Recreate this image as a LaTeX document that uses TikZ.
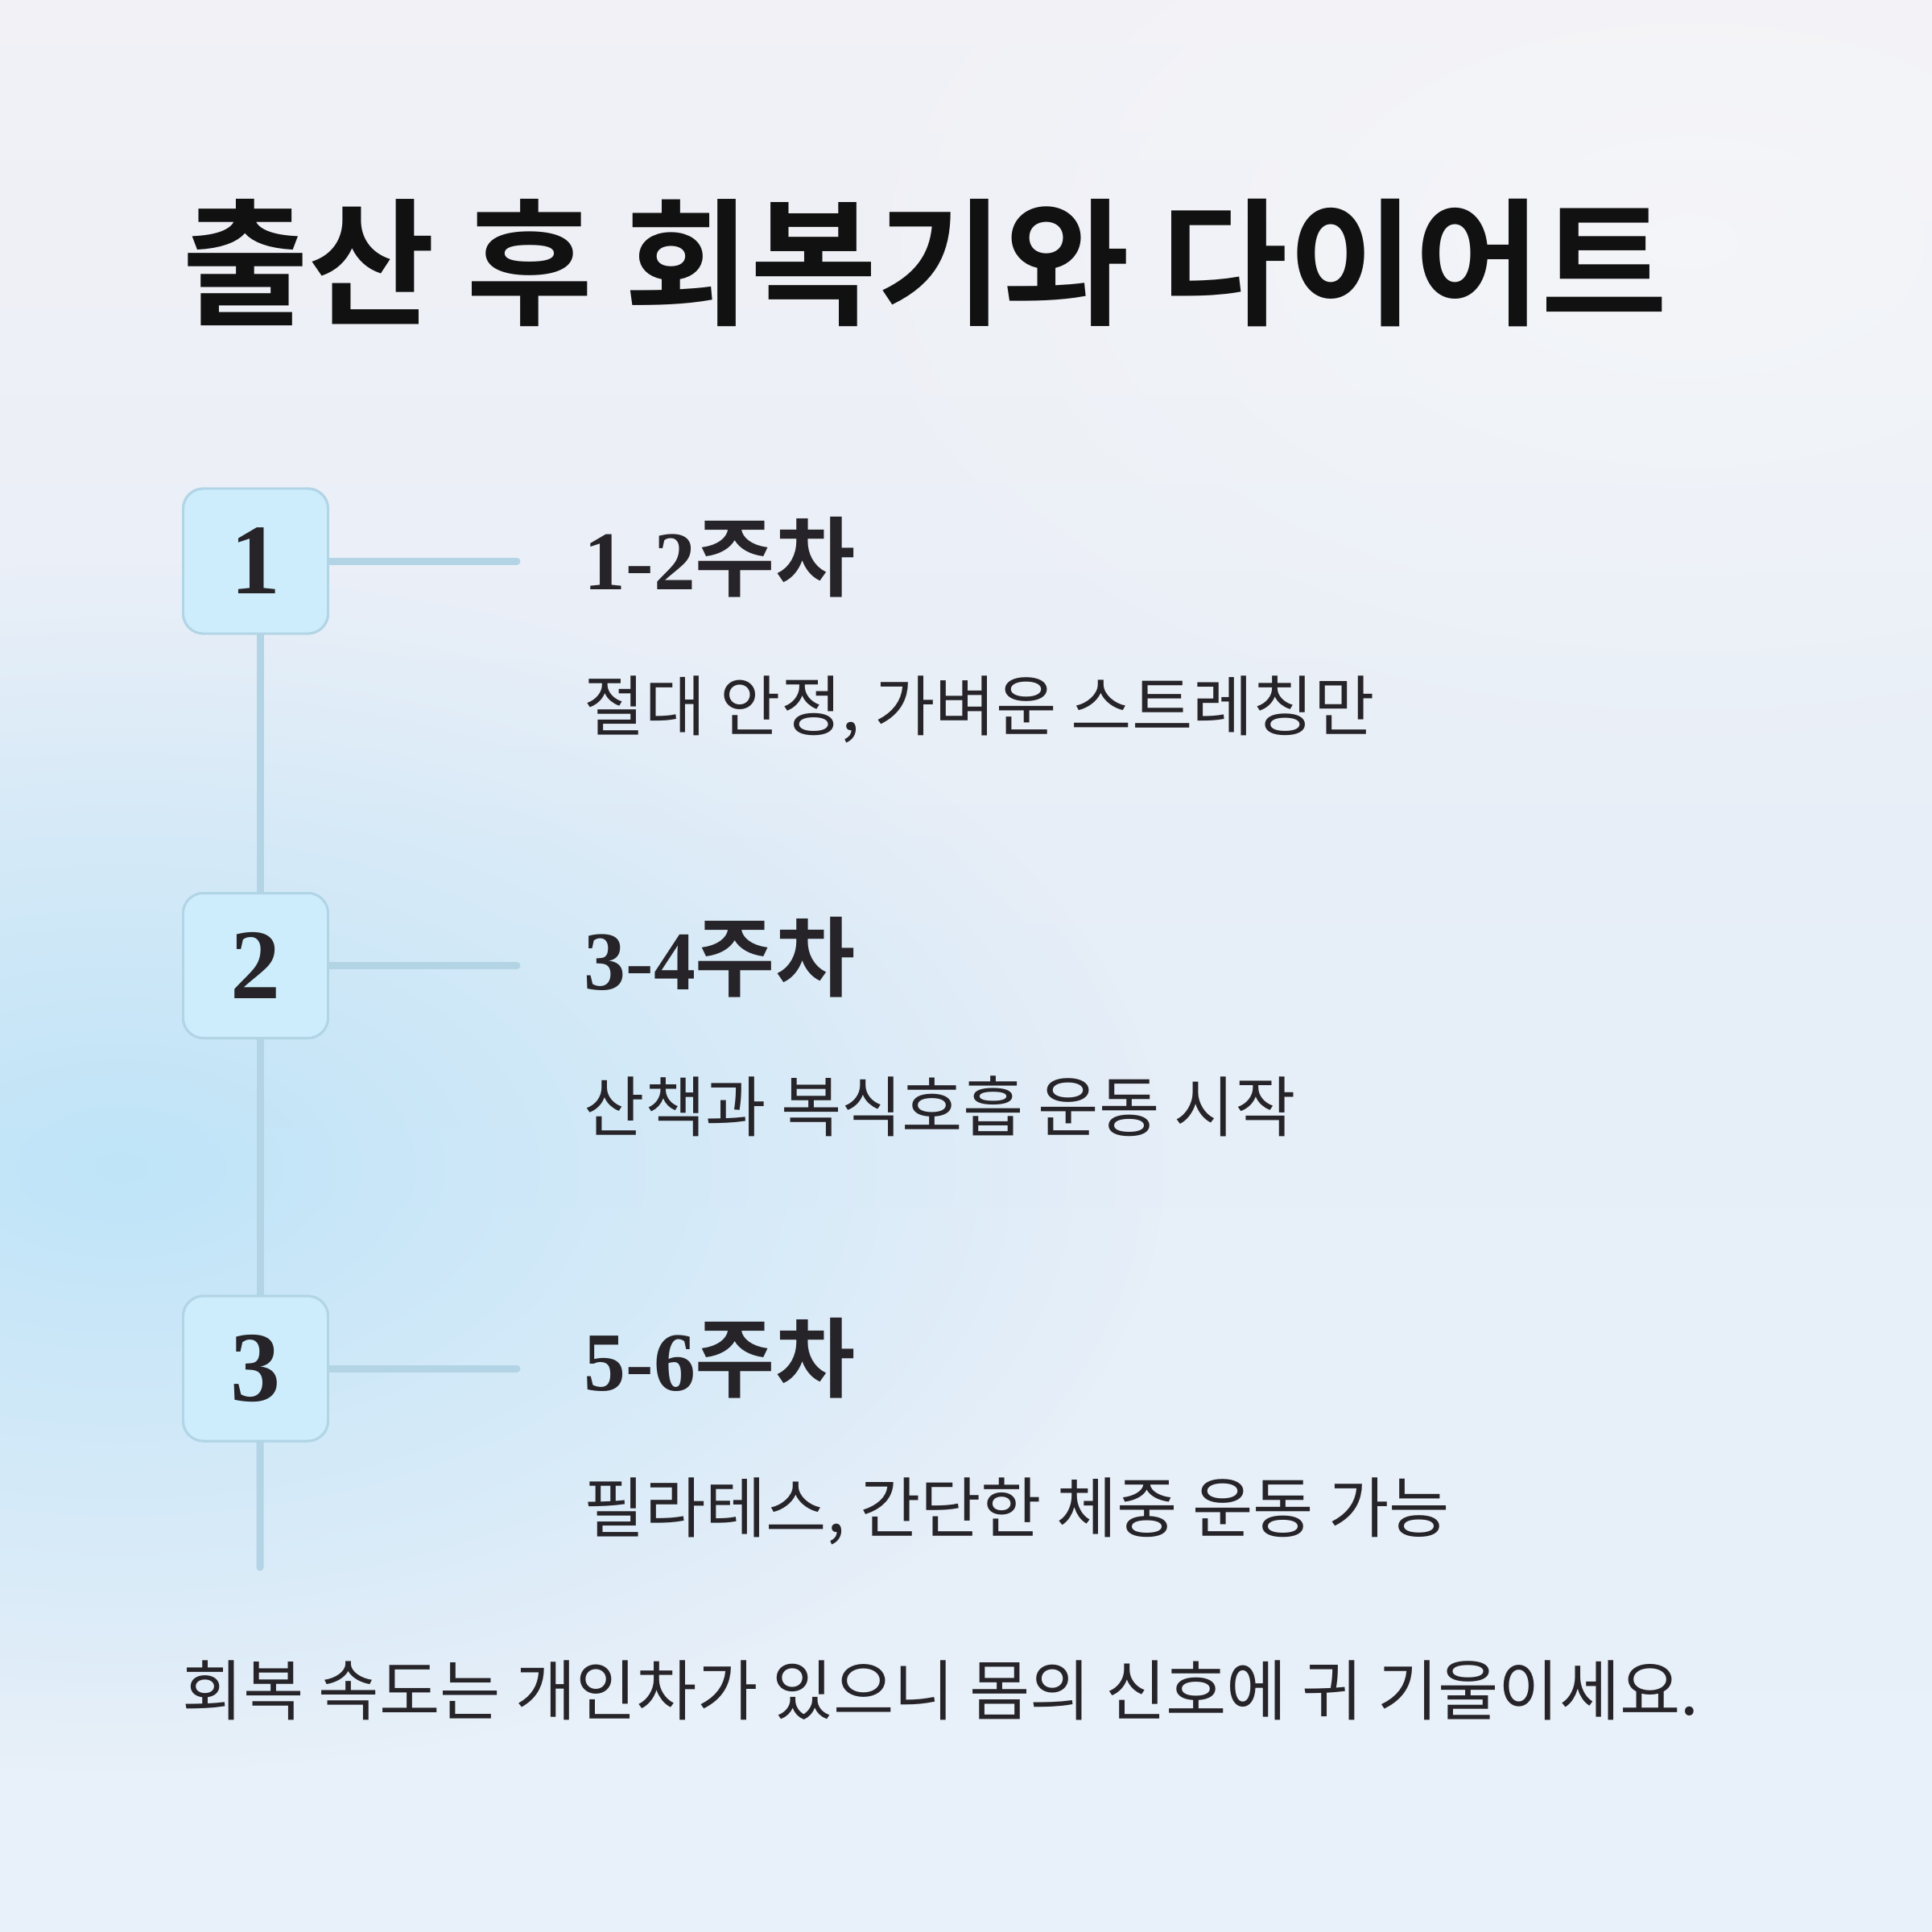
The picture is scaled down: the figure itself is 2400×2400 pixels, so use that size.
\documentclass[tikz,border=0pt]{standalone}
\usepackage{fontspec}
\usetikzlibrary{fadings}
\newfontfamily\krR{Noto Sans CJK KR}[RawFeature={+palt}]
\newfontfamily\krB{Noto Sans CJK KR Bold}[RawFeature={+palt}]
\newfontfamily\digB{Liberation Serif}[BoldFont={Liberation Serif Bold}]
\definecolor{bgtop}{HTML}{F1F1F6}
\definecolor{bgmid}{HTML}{E6EEF7}
\definecolor{bgbot}{HTML}{E8F0FA}
\definecolor{glow}{HTML}{BFE4F8}
\definecolor{boxfill}{HTML}{CDEDFD}
\definecolor{boxline}{HTML}{B2D5E5}
\definecolor{conn}{HTML}{B3D4E4}
\definecolor{txt}{HTML}{262428}
\definecolor{ttl}{HTML}{111111}
\tikzfading[name=softglow, inner color=transparent!0, outer color=transparent!100]
\tikzset{
  numbox/.style={draw=boxline, line width=0.85pt, fill=boxfill, rounded corners=2.5mm,
    minimum width=18mm, minimum height=18mm, inner sep=0pt, text=txt,
    font=\digB\bfseries\fontsize{35.3pt}{36pt}\selectfont},
  connline/.style={draw=conn, line width=2.56pt, line cap=round},
  heading/.style={anchor=base west, inner sep=0pt, text=txt},
  desc/.style={anchor=base west, inner sep=0pt, text=txt, font=\krR\fontsize{23.3pt}{24pt}\selectfont},
}
\newcommand{\hd}[2]{{\digB\bfseries\fontsize{29.5pt}{30pt}\selectfont #1}{\krB\fontsize{30.7pt}{31pt}\selectfont #2}}
\begin{document}
\begin{tikzpicture}[x=0.1mm,y=-0.1mm]
\useasboundingbox (0,0) rectangle (2400,2400);
% background
\shade[top color=bgtop, bottom color=bgbot, middle color=bgmid] (0,0) rectangle (2400,2400);
\fill[glow, path fading=softglow] (150,1450) ellipse (1300 and 750);
\fill[white, opacity=0.35, path fading=softglow] (2100,300) ellipse (1200 and 700);
% title
\node[anchor=base west, inner sep=0pt, text=ttl, font=\krB\fontsize{48.6pt}{50pt}\selectfont] (title) at (226,390) {출산 후 회복기와 다이어트};
% boxes
\node[numbox] (n1) at (317.5,697) {1};
\node[numbox] (n2) at (317.5,1199.5) {2};
\node[numbox] (n3) at (317.5,1700) {3};
% connectors
\coordinate (e1) at (642,697);
\coordinate (e2) at (642,1199.5);
\coordinate (e3) at (642,1700);
\coordinate (vend) at (323,1947);
\draw[connline, line cap=butt] ([xshift=0.55mm]n1.south) -- ([xshift=0.55mm]n2.north);
\draw[connline, line cap=butt] ([xshift=0.55mm]n2.south) -- ([xshift=0.55mm]n3.north);
\draw[connline] ([xshift=0.55mm]n3.south) -- (vend);
\draw[connline] (n1.east) -- (e1);
\draw[connline] (n2.east) -- (e2);
\draw[connline] (n3.east) -- (e3);
% redraw box borders over lines
\node[numbox] at (n1) {1};
\node[numbox] at (n2) {2};
\node[numbox] at (n3) {3};
% headings
\node[heading] (h1) at (725,732) {\hd{1-2}{주차}};
\node[heading] (h2) at (725,1229) {\hd{3-4}{주차}};
\node[heading] (h3) at (725,1727) {\hd{5-6}{주차}};
% descriptions
\node[desc] (d1) at (725,907) {절대 안정, 가벼운 스트레칭만};
\node[desc] (d2) at (725,1405) {산책과 복식호흡 운동 시작};
\node[desc] (d3) at (725,1903) {필라테스, 간단한 체중 운동 가능};
% footer
\node[desc] (foot) at (226,2130) {회복 속도는 개인차가 있으니 몸의 신호에 귀 기울이세요.};
\end{tikzpicture}
\end{document}
